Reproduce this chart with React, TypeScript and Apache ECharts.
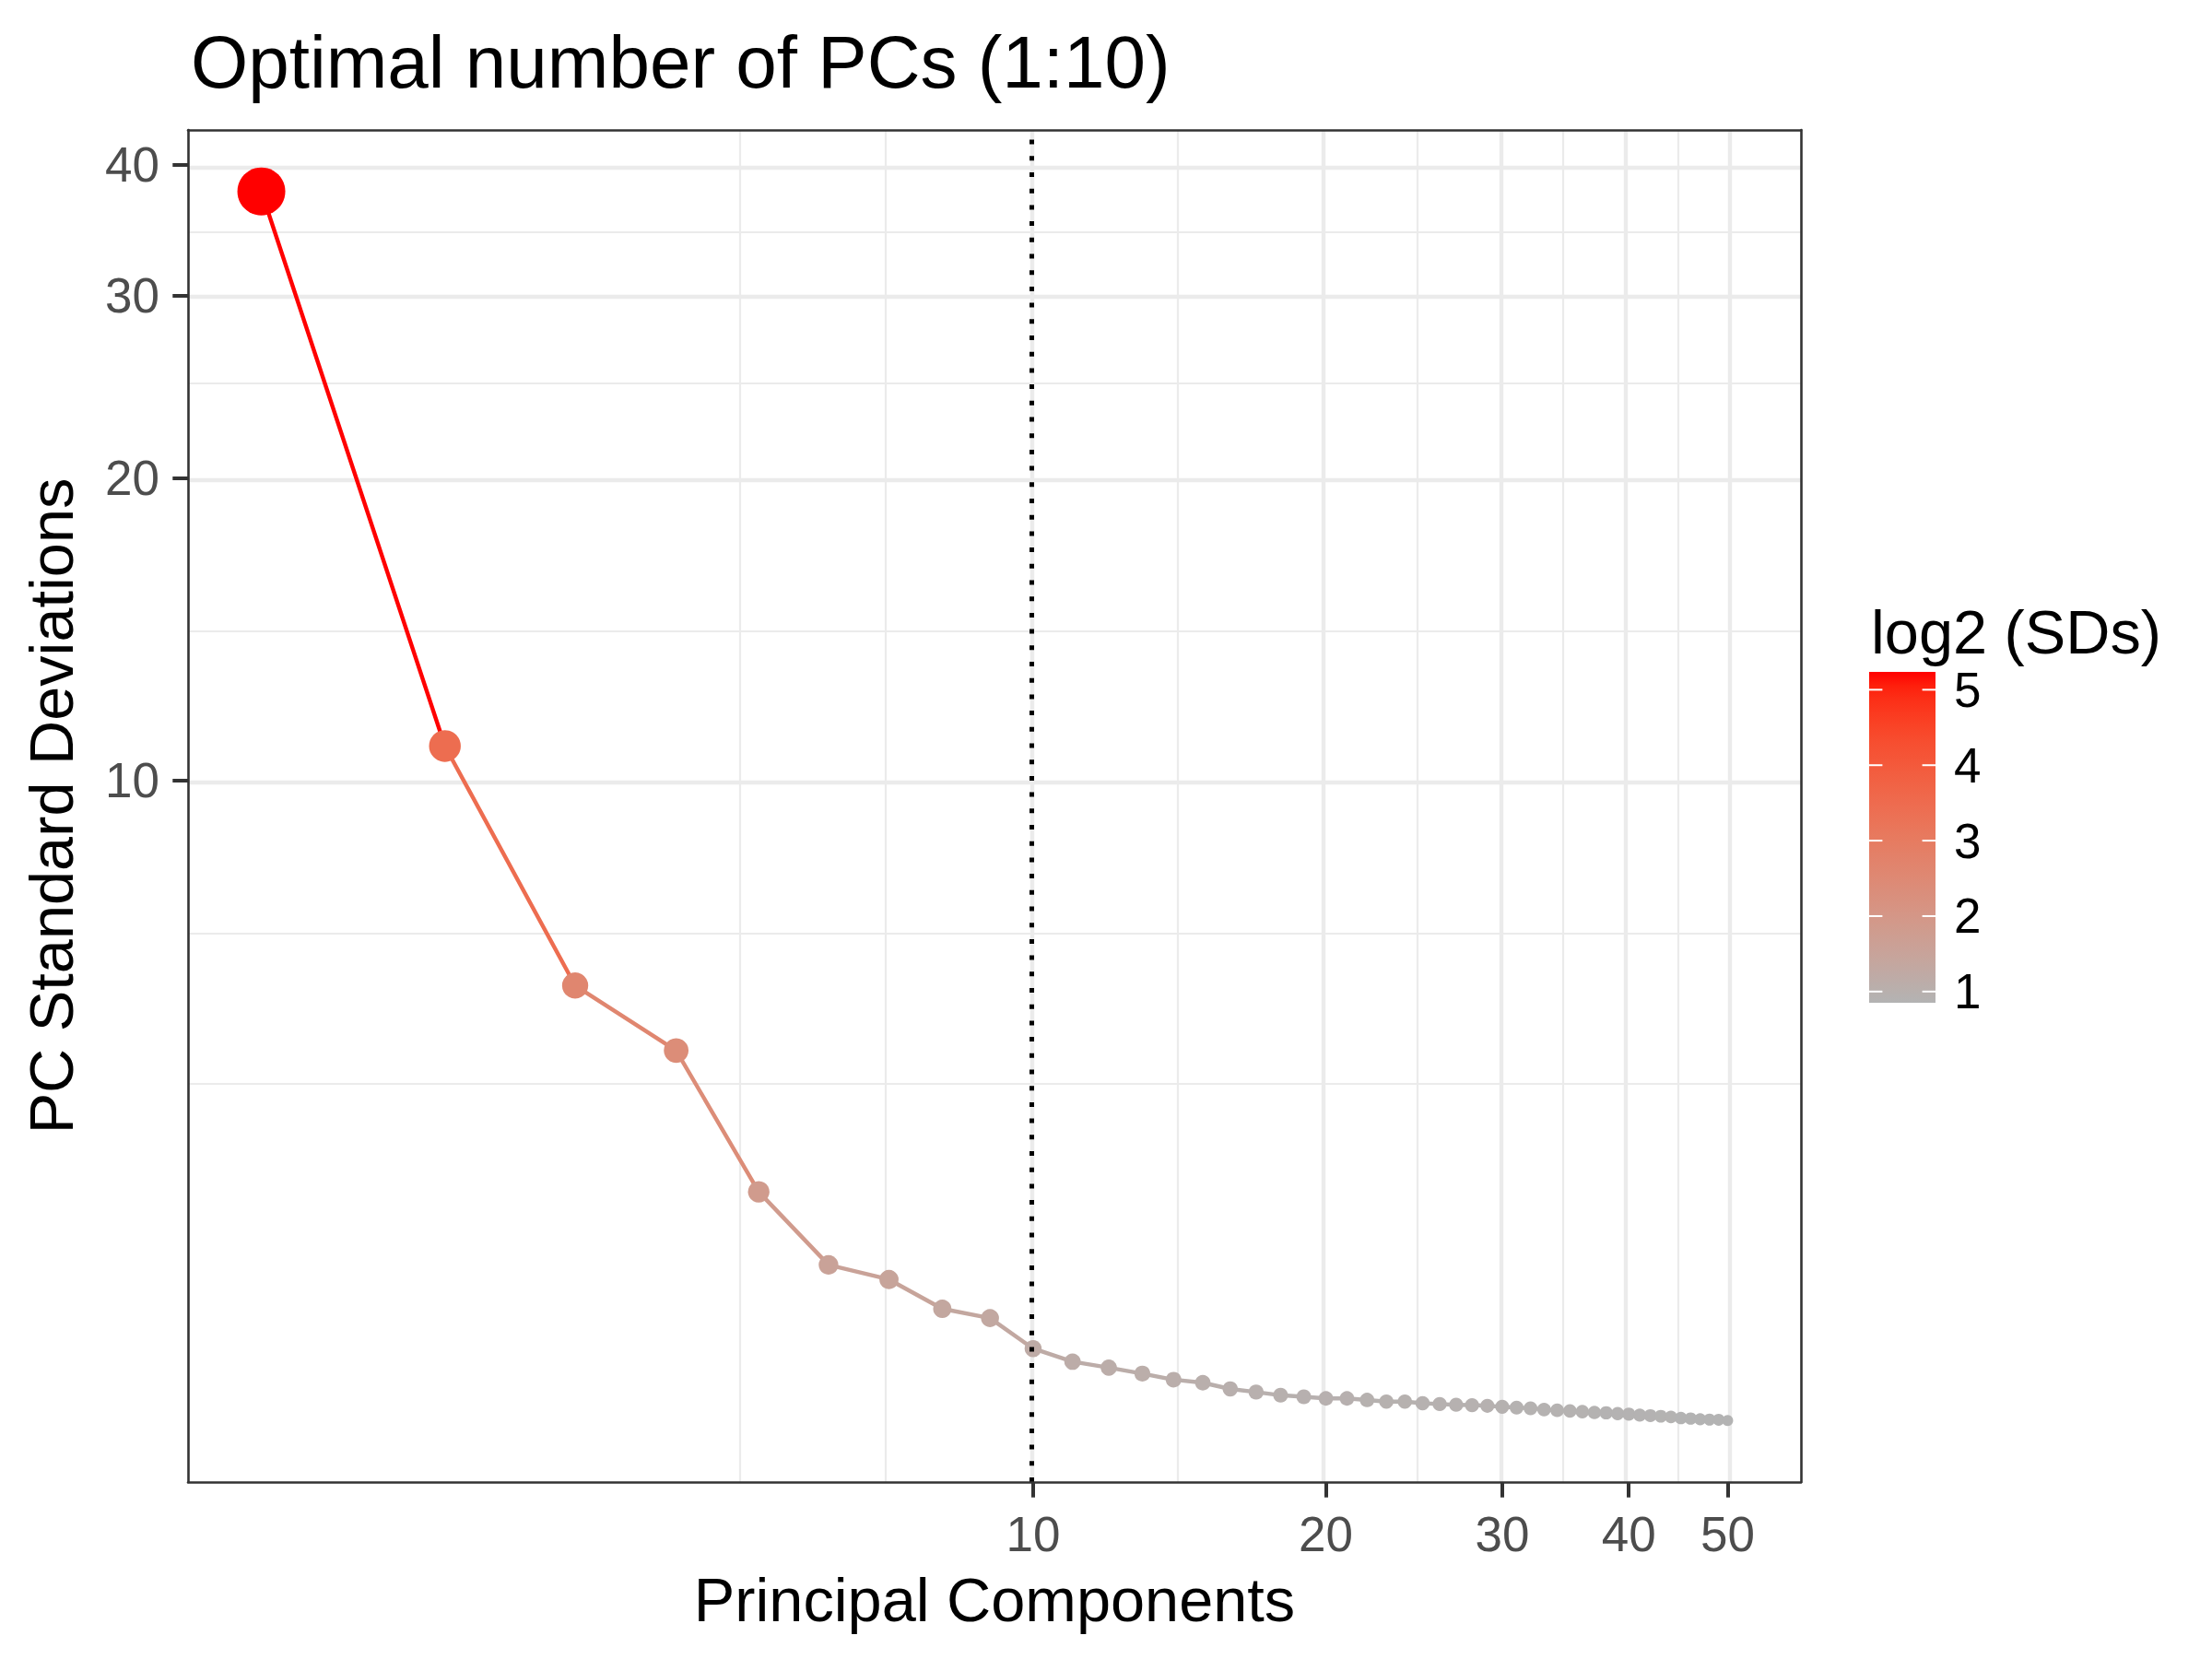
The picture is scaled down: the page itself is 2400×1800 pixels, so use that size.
import { useEffect, useRef } from "react";
import * as echarts from "echarts";

// ---- data ----
const pcs = [
  1, 2, 3, 4, 5, 6, 7, 8, 9, 10, 11, 12, 13, 14, 15, 16, 17, 18, 19, 20, 21, 22, 23, 24, 25,
  26, 27, 28, 29, 30, 31, 32, 33, 34, 35, 36, 37, 38, 39, 40, 41, 42, 43, 44, 45, 46, 47, 48, 49, 50,
];
const sds = [
  37.7, 10.84, 6.1, 5.18, 3.57, 2.91, 2.79, 2.56, 2.49, 2.27, 2.18, 2.14, 2.1, 2.06, 2.04, 2.0, 1.98,
  1.96, 1.95, 1.94, 1.94, 1.93, 1.92, 1.92, 1.91, 1.905, 1.9, 1.898, 1.894, 1.888, 1.883, 1.879, 1.871,
  1.866, 1.862, 1.858, 1.853, 1.851, 1.846, 1.843, 1.837, 1.834, 1.83, 1.826, 1.819, 1.816, 1.812, 1.81,
  1.809, 1.804,
];
const xTickValues = [10, 20, 30, 40, 50];
const yTickValues = [10, 20, 30, 40];
const legendTickValues = [1, 2, 3, 4, 5];
const cutoffPC = 10;
const titleText = "Optimal number of PCs (1:10)";
const xTitle = "Principal Components";
const yTitle = "PC Standard Deviations";
const legendTitle = "log2 (SDs)";
const lowColor = "#B3B3B3";
const highColor = "#FF0000";

const FONT = "'Liberation Sans', Arial, Helvetica, sans-serif";

// log1p-style transform used by both axes
const tf = (v: number) => Math.log10(v + 1);
const inv = (u: number) => Math.pow(10, u) - 1;

function expand(lo: number, hi: number): [number, number] {
  const d = hi - lo;
  return [lo - 0.05 * d, hi + 0.05 * d];
}

function minorBreaks(majors: number[], lim: [number, number]) {
  let b = majors.slice();
  const bd = b[1] - b[0];
  if (lim[0] < b[0]) b = [b[0] - bd, ...b];
  if (lim[1] > b[b.length - 1]) b = [...b, b[b.length - 1] + bd];
  const out: number[] = [];
  for (let i = 0; i < b.length - 1; i++) out.push(b[i], (b[i] + b[i + 1]) / 2);
  out.push(b[b.length - 1]);
  return out.filter(
    (m) => m >= lim[0] && m <= lim[1] && !majors.some((M) => Math.abs(M - m) < 1e-9)
  );
}

// ---- CIELAB interpolation (like ggplot's colour ramp) ----
function hexToRgb(h: string) {
  const n = parseInt(h.slice(1), 16);
  return [(n >> 16) & 255, (n >> 8) & 255, n & 255];
}
function toLin(c: number) {
  c /= 255;
  return c <= 0.04045 ? c / 12.92 : Math.pow((c + 0.055) / 1.055, 2.4);
}
function fromLin(c: number) {
  const v = c <= 0.0031308 ? 12.92 * c : 1.055 * Math.pow(c, 1 / 2.4) - 0.055;
  return Math.max(0, Math.min(255, Math.round(v * 255)));
}
const WX = 0.95047, WY = 1.0, WZ = 1.08883;
function rgbToLab(rgb: number[]) {
  const [r, g, b] = rgb.map(toLin);
  const x = (0.4124564 * r + 0.3575761 * g + 0.1804375 * b) / WX;
  const y = (0.2126729 * r + 0.7151522 * g + 0.072175 * b) / WY;
  const z = (0.0193339 * r + 0.119192 * g + 0.9503041 * b) / WZ;
  const f = (t: number) => (t > 216 / 24389 ? Math.cbrt(t) : (24389 / 27 * t + 16) / 116);
  const fx = f(x), fy = f(y), fz = f(z);
  return [116 * fy - 16, 500 * (fx - fy), 200 * (fy - fz)];
}
function labToHex(L: number, a: number, bb: number) {
  const fy = (L + 16) / 116;
  const fx = fy + a / 500;
  const fz = fy - bb / 200;
  const finv = (t: number) => (t * t * t > 216 / 24389 ? t * t * t : (116 * t - 16) / (24389 / 27));
  const x = finv(fx) * WX, y = finv(fy) * WY, z = finv(fz) * WZ;
  const r = 3.2404542 * x - 1.5371385 * y - 0.4985314 * z;
  const g = -0.969266 * x + 1.8760108 * y + 0.041556 * z;
  const b = 0.0556434 * x - 0.2040259 * y + 1.0572252 * z;
  const hx = (c: number) => fromLin(c).toString(16).padStart(2, "0");
  return "#" + hx(r) + hx(g) + hx(b);
}
const LAB_LO = rgbToLab(hexToRgb(lowColor));
const LAB_HI = rgbToLab(hexToRgb(highColor));
function rampColor(p: number) {
  const q = Math.max(0, Math.min(1, p));
  return labToHex(
    LAB_LO[0] + (LAB_HI[0] - LAB_LO[0]) * q,
    LAB_LO[1] + (LAB_HI[1] - LAB_LO[1]) * q,
    LAB_LO[2] + (LAB_HI[2] - LAB_LO[2]) * q
  );
}

function buildOption() {
  const tx = pcs.map(tf);
  const ty = sds.map(tf);
  const xLim = expand(Math.min(...tx), Math.max(...tx));
  const yLim = expand(Math.min(...ty), Math.max(...ty));

  const log2s = sds.map((s) => Math.log2(s));
  const vMin = Math.min(...log2s), vMax = Math.max(...log2s);
  const sMin = Math.min(...sds), sMax = Math.max(...sds);
  const colors = log2s.map((v) => rampColor((v - vMin) / (vMax - vMin)));
  const sizes = sds.map((s) => 12 + 40 * Math.pow((s - sMin) / (sMax - sMin), 0.42));

  const xMaj = xTickValues.map(tf);
  const yMaj = yTickValues.map(tf);
  const xMin = minorBreaks(xMaj, xLim);
  const yMin = minorBreaks(yMaj, yLim);

  const GRID = "#EBEBEB";
  const gridData: any[] = [
    ...xMin.map((v) => ({ xAxis: v, lineStyle: { color: GRID, width: 2.2, type: "solid" } })),
    ...yMin.map((v) => ({ yAxis: v, lineStyle: { color: GRID, width: 2.2, type: "solid" } })),
    ...xMaj.map((v) => ({ xAxis: v, lineStyle: { color: GRID, width: 4.4, type: "solid" } })),
    ...yMaj.map((v) => ({ yAxis: v, lineStyle: { color: GRID, width: 4.4, type: "solid" } })),
  ];

  const segSeries = tx.slice(0, -1).map((_, i) => ({
    type: "line",
    xAxisIndex: 0,
    yAxisIndex: 0,
    data: [
      [tx[i], ty[i]],
      [tx[i + 1], ty[i + 1]],
    ],
    symbol: "none",
    silent: true,
    z: 3,
    lineStyle: { color: colors[i], width: 4.4, cap: "round" },
  }));

  const fmt = (v: number) => String(Math.round(inv(v)));
  const tickLine = { show: true, length: 16.7, lineStyle: { color: "#333333", width: 4 } };
  const borderLine = { show: true, lineStyle: { color: "#333333", width: 2.6 } };

  // ---- colour bar legend ----
  const barX = 2028, barW = 72, barTop = 729, barBot = 1088;
  const barH = barBot - barTop;
  const nStops = 24;
  const stops = Array.from({ length: nStops + 1 }, (_, k) => ({
    offset: k / nStops,
    color: rampColor(1 - k / nStops),
  }));
  const vToY = (v: number) => barTop + ((vMax - v) / (vMax - vMin)) * barH;
  const legendEls: any[] = [
    {
      type: "text",
      x: 2030,
      y: 686,
      style: { text: legendTitle, fontSize: 66.7, fontFamily: FONT, fill: "#000", align: "left", verticalAlign: "middle" },
    },
    {
      type: "rect",
      shape: { x: barX, y: barTop, width: barW, height: barH },
      style: { fill: new echarts.graphic.LinearGradient(0, 0, 0, 1, stops) },
    },
  ];
  legendTickValues.forEach((v) => {
    const y = vToY(v);
    legendEls.push(
      { type: "line", shape: { x1: barX, y1: y, x2: barX + 14.4, y2: y }, style: { stroke: "#FFFFFF", lineWidth: 2 } },
      { type: "line", shape: { x1: barX + barW - 14.4, y1: y, x2: barX + barW, y2: y }, style: { stroke: "#FFFFFF", lineWidth: 2 } },
      {
        type: "text",
        x: 2120,
        y,
        style: { text: String(v), fontSize: 53, fontFamily: FONT, fill: "#000", align: "left", verticalAlign: "middle" },
      }
    );
  });

  const gridL = 204, gridR = 446, gridT = 141, gridB = 192;
  const panelCX = gridL + (2400 - gridL - gridR) / 2;
  const panelCY = gridT + (1800 - gridT - gridB) / 2;

  return {
    animation: false,
    backgroundColor: "#FFFFFF",
    textStyle: { fontFamily: FONT },
    title: {
      text: titleText,
      left: 202,
      top: 22,
      textStyle: { fontSize: 80, fontWeight: "normal", color: "#000", fontFamily: FONT },
    },
    grid: { left: gridL, right: gridR, top: gridT, bottom: gridB, show: false },
    xAxis: [
      {
        type: "value",
        min: xLim[0],
        max: xLim[1],
        position: "bottom",
        z: 20,
        axisLine: borderLine,
        axisTick: { ...tickLine, customValues: xMaj },
        axisLabel: { show: true, customValues: xMaj, formatter: fmt, fontSize: 53, color: "#4D4D4D", margin: 30, fontFamily: FONT },
        splitLine: { show: false },
      },
      {
        type: "value",
        min: xLim[0],
        max: xLim[1],
        position: "top",
        z: 20,
        axisLine: borderLine,
        axisTick: { show: false },
        axisLabel: { show: false },
        splitLine: { show: false },
      },
    ],
    yAxis: [
      {
        type: "value",
        min: yLim[0],
        max: yLim[1],
        position: "left",
        z: 20,
        axisLine: borderLine,
        axisTick: { ...tickLine, customValues: yMaj },
        axisLabel: { show: true, customValues: yMaj, formatter: fmt, fontSize: 53, color: "#4D4D4D", margin: 31, fontFamily: FONT },
        splitLine: { show: false },
      },
      {
        type: "value",
        min: yLim[0],
        max: yLim[1],
        position: "right",
        z: 20,
        axisLine: borderLine,
        axisTick: { show: false },
        axisLabel: { show: false },
        splitLine: { show: false },
      },
    ],
    graphic: [
      {
        type: "text",
        x: panelCX,
        y: 1736,
        style: { text: xTitle, fontSize: 66.7, fontFamily: FONT, fill: "#000", align: "center", verticalAlign: "middle" },
      },
      {
        type: "text",
        x: 56,
        y: panelCY,
        rotation: Math.PI / 2,
        style: { text: yTitle, fontSize: 66.7, fontFamily: FONT, fill: "#000", align: "center", verticalAlign: "middle" },
      },
      ...legendEls,
    ],
    series: [
      {
        type: "line",
        data: [],
        z: 1,
        silent: true,
        markLine: {
          silent: true,
          z: 1,
          symbol: ["none", "none"],
          label: { show: false },
          data: gridData,
        },
      },
      ...segSeries,
      {
        type: "scatter",
        z: 4,
        silent: true,
        data: tx.map((x, i) => ({
          value: [x, ty[i]],
          symbolSize: sizes[i],
          itemStyle: { color: colors[i], opacity: 1 },
        })),
      },
      {
        type: "line",
        data: [],
        z: 10,
        silent: true,
        markLine: {
          silent: true,
          z: 10,
          symbol: ["none", "none"],
          label: { show: false },
          data: [{ xAxis: tf(cutoffPC), lineStyle: { color: "#000000", width: 5, type: [5, 12.7] } }],
        },
      },
    ],
  };
}

export default function App() {
  const ref = useRef<HTMLDivElement>(null);
  useEffect(() => {
    document.body.style.margin = "0";
    const chart = echarts.init(ref.current!, null, { renderer: "svg" });
    chart.setOption(buildOption() as any);
    return () => chart.dispose();
  }, []);
  return <div ref={ref} style={{ width: 2400, height: 1800 }} />;
}
